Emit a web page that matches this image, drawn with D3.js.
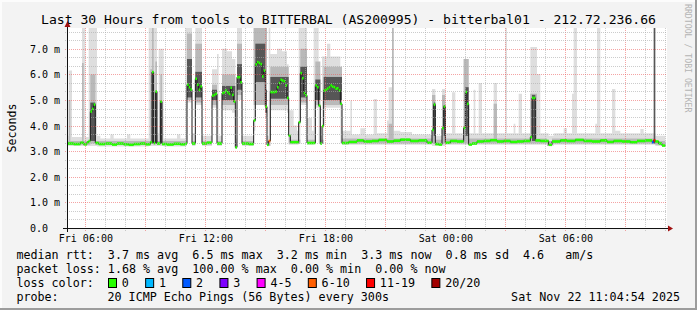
<!DOCTYPE html>
<html>
<head>
<meta charset="utf-8">
<script src="https://cdn.jsdelivr.net/npm/d3@7"></script>
<style>
  body { margin: 0; background: #f3f3f3; }
  text { font-family: "DejaVu Sans Mono", monospace; fill: #000; }
</style>
</head>
<body>
<div id="chart"></div>
<script>
// ---- data (minutes after graph start, values in ms) ----
const titleText = 'Last 30 Hours from tools to BITTERBAL (AS200995) - bitterbal01 - 212.72.236.66'
const yTickValues = [0, 1, 2, 3, 4, 5, 6, 7]
const yTickLabels = ['0.0', '1.0 m', '2.0 m', '3.0 m', '4.0 m', '5.0 m', '6.0 m', '7.0 m']

// median rtt per 5 min step: [minute, ms] (value holds until next entry)
const medianSteps = [
  [0,3.30],[20,3.28],[40,3.33],[50,3.27],[60,3.35],
  [65,3.40],[70,4.55],[75,4.65],[80,4.82],[85,3.32],
  [95,3.28],[115,3.30],[135,3.26],[150,3.30],[170,3.27],[185,3.25],[200,3.28],[220,3.30],[235,3.27],
  [250,3.35],[255,6.09],[260,3.32],[265,5.33],[270,3.30],[280,4.94],[285,3.28],
  [300,3.26],[320,3.29],[340,3.27],[355,3.30],
  [360,5.60],[365,5.50],[370,5.41],[375,3.30],
  [385,5.83],[390,5.60],[395,5.40],[400,5.53],[405,3.30],
  [420,3.33],[435,5.17],[440,5.20],[445,5.24],[450,3.30],
  [465,5.27],[470,5.30],[475,5.37],[480,5.30],[485,5.24],[490,5.48],[495,5.20],[500,4.94],[505,3.15],
  [510,5.89],[515,5.89],[520,5.69],[525,3.30],[545,3.28],
  [560,4.20],[565,6.39],[570,6.48],[575,6.45],[580,6.40],[585,5.92],[590,6.15],[595,4.74],[600,3.25],[605,3.40],
  [610,5.31],[620,5.31],[625,5.33],[630,5.50],[635,5.66],[640,5.79],[645,5.76],[650,5.73],[655,5.57],[660,5.08],[665,3.61],[670,3.35],
  [695,4.13],[700,6.05],[705,5.85],[710,5.27],[715,5.18],[720,3.32],
  [745,5.57],[750,5.50],[755,4.78],[760,3.30],
  [765,3.98],[770,5.37],[775,5.40],[780,5.45],[785,5.50],[790,5.57],[795,5.52],[800,5.50],[805,5.44],[810,5.46],[815,5.37],[820,4.85],[825,3.32],
  [845,3.36],[870,3.42],[890,3.38],[915,3.40],[935,3.44],[960,3.38],[980,3.41],[1000,3.45],[1030,3.40],[1055,3.42],[1080,3.33],
  [1095,3.83],[1100,4.82],[1105,3.28],[1115,3.26],
  [1125,3.90],[1130,4.74],[1135,3.33],[1150,3.40],[1170,3.38],
  [1190,3.91],[1195,5.31],[1200,4.85],[1205,3.26],[1215,3.30],[1230,3.38],[1250,3.40],[1270,3.43],[1290,3.38],[1310,3.40],[1330,3.36],[1350,3.38],[1370,3.40],
  [1390,3.55],[1395,5.08],[1400,5.08],[1405,3.42],
  [1420,3.40],[1445,3.25],[1455,3.38],[1480,3.42],[1500,3.40],[1525,3.44],[1550,3.40],[1575,3.38],[1600,3.42],[1620,3.36],[1640,3.40],[1665,3.38],[1690,3.35],[1710,3.40],[1735,3.42],
  [1755,3.35],[1760,3.42],[1765,3.38],[1775,3.30],[1785,3.22]
]
const endMinute = 1795

// steps with packet loss: [minute, loss class index]
const lossSteps = [[535,5],[605,5],[1755,2],[1760,6]]
const lossLabels = ['0', '1', '2', '3', '4-5', '6-10', '11-19', '20/20']
const lossColors = ['#26ff00', '#00b8ff', '#0059ff', '#7e00ff', '#ff00ff', '#ff5e00', '#ff0000', '#a10000']

// smoke (min..max of the pings): [minute, low ms, high ms]
const smokeOuter = [
  [0,3.2,3.6],[5,3.2,6.15],[15,3.2,3.55],[45,3.2,7.9],[55,3.2,3.55],[65,3.2,7.9],[90,3.18,3.6],[100,3.18,3.5],
  [130,3.18,3.65],[140,3.18,3.5],[180,3.18,3.65],[190,3.18,3.5],[245,3.2,7.9],[270,3.2,3.7],[275,3.2,7.0],[290,3.18,3.5],
  [330,3.18,3.65],[340,3.18,3.5],[355,3.2,7.9],[360,4.9,7.9],[375,3.2,3.7],[385,4.8,7.9],[405,3.2,3.6],
  [430,3.2,3.6],[435,4.7,6.2],[450,3.2,6.8],[455,3.2,3.6],[465,4.6,7.0],[480,4.6,6.9],[495,4.5,6.6],[505,3.1,3.5],
  [510,5.0,7.9],[525,3.2,3.6],[555,3.2,3.6],[560,3.8,7.9],[565,4.8,7.9],[595,4.3,7.9],[600,3.2,3.6],[605,3.2,7.9],
  [610,4.6,6.8],[630,4.6,7.0],[645,4.6,6.9],[660,4.5,6.4],[665,3.25,4.6],[680,3.25,4.0],[690,3.25,3.8],
  [695,3.3,7.9],[700,4.8,7.9],[720,3.25,4.3],[735,3.25,3.8],[740,3.3,7.9],[745,4.7,7.9],[755,3.3,6.0],[760,3.25,3.6],
  [765,3.3,6.7],[770,4.7,6.7],[780,4.7,7.2],[790,4.7,6.7],[820,3.3,5.6],[825,3.25,3.8],
  [850,3.25,4.98],[855,3.25,3.65],[880,3.25,3.9],[895,3.25,3.65],[920,3.25,5.04],[930,3.25,3.7],
  [960,3.25,4.2],[965,3.25,5.5],[975,3.25,7.9],[980,3.25,3.8],[1000,3.25,3.75],[1035,3.25,3.65],[1095,3.2,5.43],
  [1105,3.2,3.6],[1125,3.2,5.43],[1135,3.25,3.7],[1155,3.25,5.3],[1165,3.25,3.7],[1190,3.25,6.6],[1205,3.25,3.7],
  [1220,3.25,5.4],[1225,3.25,3.7],[1235,3.25,5.66],[1245,3.25,3.7],[1280,3.25,5.66],[1290,3.25,3.7],[1315,3.25,7.9],
  [1320,3.25,3.7],[1340,3.25,4.07],[1345,3.25,3.7],[1355,3.25,5.24],[1365,3.25,3.7],[1390,3.25,7.07],[1410,3.25,6.02],
  [1420,3.25,3.7],[1445,3.2,3.6],[1460,3.25,3.7],[1490,3.25,3.9],[1500,3.25,3.7],[1515,3.25,5.24],[1520,3.25,7.9],
  [1530,3.25,3.7],[1585,3.25,4.07],[1590,3.25,7.9],[1600,3.25,3.7],[1635,3.25,5.43],[1645,3.25,3.8],[1660,3.25,3.7],
  [1720,3.25,3.87],[1730,3.25,3.7],[1765,3.2,3.6]
]
const smokeMid = [
  [0,3.25,3.4],[5,3.25,5.0],[10,3.25,3.4],[45,3.25,6.45],[50,3.25,3.4],[70,3.3,6.0],[85,3.25,3.4],
  [250,3.3,6.2],[255,3.3,7.9],[260,3.25,3.4],[265,3.3,6.5],[270,3.25,3.4],[280,3.3,6.0],[285,3.25,3.4],
  [360,5.0,7.6],[375,3.25,3.4],[385,4.9,7.2],[405,3.25,3.4],[435,4.8,5.6],[450,3.25,3.4],[465,4.8,6.0],
  [505,3.2,3.35],[510,5.2,7.2],[525,3.25,3.4],[560,4.8,7.9],[600,3.2,3.4],[610,4.8,6.3],[665,3.3,3.6],[670,3.3,3.45],
  [700,4.9,7.0],[720,3.3,3.45],[745,4.8,6.5],[760,3.3,3.45],[770,4.8,6.3],[825,3.3,3.5],[965,3.3,4.07],[975,3.3,7.9],
  [980,3.3,3.5],[1095,3.3,5.2],[1105,3.25,3.45],[1125,3.3,5.2],[1135,3.3,3.5],[1190,3.3,6.6],[1205,3.3,3.5],
  [1280,3.3,4.85],[1290,3.3,3.5],[1390,3.3,5.24],[1410,3.3,3.5],[1440,3.2,3.4],[1455,3.3,3.5],[1765,3.25,3.4]
]
// dense core of the smoke; null = none
const smokeCore = [
  [70,3.4,4.9],[85,null,null],[255,3.3,6.1],[260,null,null],[265,3.3,5.35],[270,null,null],
  [280,3.3,4.95],[285,null,null],[360,5.1,6.6],[375,null,null],[385,5.1,6.1],[405,null,null],[435,5.0,5.4],
  [450,null,null],[465,5.0,5.55],[505,null,null],[510,5.4,6.4],[525,null,null],[565,5.7,7.2],[595,4.5,5.4],
  [600,null,null],[610,5.05,5.9],[665,null,null],[700,5.1,6.3],[720,null,null],[745,5.0,5.8],[760,null,null],
  [770,5.0,5.9],[825,null,null],[1100,3.6,4.9],[1105,null,null],[1130,3.6,4.8],[1135,null,null],[1195,3.6,5.5],
  [1205,null,null],[1395,3.4,5.2],[1405,null,null],[1760,3.3,7.9],[1765,null,null]
]

const rttLegend = 'median rtt:  3.7 ms avg  6.5 ms max  3.2 ms min  3.3 ms now  0.8 ms sd  4.6   am/s'
const lossLegend = 'packet loss: 1.68 % avg  100.00 % max  0.00 % min  0.00 % now'
const probeText = '20 ICMP Echo Pings (56 Bytes) every 300s'
const stampText = 'Sat Nov 22 11:04:54 2025'

// ---- chart ----
const width = 697, height = 310
const start = new Date(2025, 10, 21, 5, 4, 54)
const end = new Date(2025, 10, 22, 11, 4, 54)
const t = m => new Date(start.getTime() + m * 60000)

const plotLeft = 67, plotRight = 667, plotTop = 28, plotBottom = 228

const x = d3.scaleTime().domain([start, end]).range([plotLeft, plotRight])
const y = d3.scaleLinear().domain([0, 7.8125]).range([plotBottom, plotTop])

const svg = d3.select('#chart').append('svg')
    .attr('width', width)
    .attr('height', height)

svg.append('rect').attr('width', width).attr('height', height).attr('fill', '#f3f3f3')
// 3d frame
svg.append('path').attr('d', `M1,${height}V1H${width}`).attr('fill', 'none').attr('stroke', '#fcfcfc').attr('stroke-width', 2)
svg.append('path').attr('d', `M0,${height - 1}H${width - 1}V0`).attr('fill', 'none').attr('stroke', '#9c9c9c').attr('stroke-width', 2)

svg.append('rect')
    .attr('x', plotLeft).attr('y', plotTop)
    .attr('width', plotRight - plotLeft).attr('height', plotBottom - plotTop)
    .attr('fill', '#fff')

svg.append('clipPath').attr('id', 'clip').append('rect')
    .attr('x', plotLeft).attr('y', plotTop)
    .attr('width', plotRight - plotLeft).attr('height', plotBottom - plotTop)

const data = svg.append('g').attr('clip-path', 'url(#clip)')

// smoke areas
const withEnd = rows => rows.concat([[endMinute].concat(rows[rows.length - 1].slice(1))])
const smokeArea = d3.area()
    .x(d => x(t(d[0])))
    .y0(d => y(d[1]))
    .y1(d => y(d[2]))
    .curve(d3.curveStepAfter)

data.append('path').datum(withEnd(smokeOuter)).attr('d', smokeArea).attr('fill', '#dedede')
data.append('path').datum(withEnd(smokeMid)).attr('d', smokeArea).attr('fill', '#b9b9b9')

const spans = rows => rows.map((r, i) => ({
    m0: r[0], m1: i + 1 < rows.length ? rows[i + 1][0] : endMinute, lo: r[1], hi: r[2]
})).filter(d => d.lo != null)

data.append('g').selectAll('rect').data(spans(smokeCore)).join('rect')
    .attr('x', d => x(t(d.m0)))
    .attr('width', d => x(t(d.m1)) - x(t(d.m0)))
    .attr('y', d => y(d.hi))
    .attr('height', d => y(d.lo) - y(d.hi))
    .attr('fill', '#565656')

// median step line
const medianLine = d3.line()
    .x(d => x(t(d[0])))
    .y(d => y(d[1]))
    .curve(d3.curveStepAfter)

data.append('path')
    .datum(withEnd(medianSteps))
    .attr('d', medianLine)
    .attr('fill', 'none')
    .attr('stroke', '#1a1a1a')
    .attr('stroke-width', 1)

const lossAt = new Map(lossSteps)
data.append('g').selectAll('rect').data(spans(medianSteps.map(d => [d[0], d[1], d[1]]))).join('rect')
    .attr('x', d => x(t(d.m0)))
    .attr('width', d => x(t(d.m1)) - x(t(d.m0)))
    .attr('y', d => y(d.hi) - 1.3)
    .attr('height', 2.6)
    .attr('fill', d => lossColors[lossAt.get(d.m0) || 0])

// grid (drawn over the data like rrdtool)
const grid = svg.append('g')
const hours = x.ticks(d3.timeHour.every(1)).filter(d => x(d) > plotLeft + 1 && x(d) < plotRight)
grid.selectAll('.vgrid').data(hours).join('line')
    .attr('x1', d => Math.round(x(d)) + 0.5).attr('x2', d => Math.round(x(d)) + 0.5)
    .attr('y1', plotTop).attr('y2', plotBottom + 3)
    .attr('stroke', d => d.getHours() % 3 === 0 ? 'rgba(235,90,90,0.55)' : 'rgba(170,170,170,0.6)')
    .attr('stroke-dasharray', '1,1')

const yMinor = d3.range(1, 24).map(i => i / 3).filter(v => Math.abs(v - Math.round(v)) > 0.01)
grid.selectAll('.hminor').data(yMinor).join('line')
    .attr('x1', plotLeft - 2).attr('x2', plotRight)
    .attr('y1', d => Math.round(y(d)) + 0.5).attr('y2', d => Math.round(y(d)) + 0.5)
    .attr('stroke', 'rgba(170,170,170,0.6)')
    .attr('stroke-dasharray', '1,1')
grid.selectAll('.hmajor').data(yTickValues.slice(1)).join('line')
    .attr('x1', plotLeft - 2).attr('x2', plotRight)
    .attr('y1', d => Math.round(y(d)) + 0.5).attr('y2', d => Math.round(y(d)) + 0.5)
    .attr('stroke', 'rgba(235,90,90,0.55)')
    .attr('stroke-dasharray', '1,1')

// axes lines + arrows
svg.append('line').attr('x1', plotLeft - 4).attr('x2', plotRight + 1)
    .attr('y1', plotBottom + 0.5).attr('y2', plotBottom + 0.5).attr('stroke', '#111')
svg.append('line').attr('x1', plotLeft + 0.5).attr('x2', plotLeft + 0.5)
    .attr('y1', plotBottom + 4).attr('y2', plotTop - 2).attr('stroke', '#111')
svg.append('path').attr('d', `M${plotRight + 1},${plotBottom - 2.5}L${plotRight + 6},${plotBottom + 0.5}L${plotRight + 1},${plotBottom + 3.5}Z`).attr('fill', '#a01010')
svg.append('path').attr('d', `M${plotLeft - 2.5},${plotTop - 1}L${plotLeft + 0.5},${plotTop - 7}L${plotLeft + 3.5},${plotTop - 1}Z`).attr('fill', '#a01010')

// tick labels via d3 axes
const xAxis = d3.axisBottom(x)
    .tickValues(x.ticks(d3.timeHour.every(6)))
    .tickFormat(d3.timeFormat('%a %H:%M'))
    .tickSize(0)
    .tickPadding(0)
const gx = svg.append('g').attr('transform', `translate(0,${plotBottom})`).call(xAxis)
gx.select('.domain').remove()
gx.selectAll('text').attr('y', 14).attr('dy', 0).style('font-size', '10px').style('font-family', '"DejaVu Sans Mono", monospace')

const yAxis = d3.axisLeft(y).tickValues(yTickValues).tickFormat((d, i) => yTickLabels[i]).tickSize(0)
const gy = svg.append('g').attr('transform', `translate(${plotLeft},0)`).call(yAxis)
gy.select('.domain').remove()
gy.selectAll('text').attr('x', 30 - plotLeft).attr('dy', '0.35em').attr('text-anchor', 'start')
    .style('font-size', '10px').style('font-family', '"DejaVu Sans Mono", monospace')

// title and side texts
svg.append('text').attr('x', 348.5).attr('y', 24).attr('text-anchor', 'middle')
    .style('font-size', '13.1px').text(titleText)
svg.append('text').attr('transform', 'translate(15.5,128) rotate(-90)').attr('text-anchor', 'middle')
    .style('font-size', '11.6px').text('Seconds')
svg.append('text').attr('transform', 'translate(684.5,4) rotate(90)')
    .style('font-size', '8.2px').style('fill', '#b4b4b4').text('RRDTOOL / TOBI OETIKER')

// legend
const legendX = 16.4, legendFont = '11.7px'
const legendRow = yy => svg.append('text').attr('x', legendX).attr('y', yy)
    .attr('xml:space', 'preserve').style('font-size', legendFont).style('white-space', 'pre')
legendRow(258.5).text(rttLegend)
legendRow(272.5).text(lossLegend)
legendRow(286.5).text('loss color:')
legendRow(300.5).text('probe:')
svg.append('text').attr('x', 107.5).attr('y', 300.5).style('font-size', legendFont).text(probeText)
svg.append('text').attr('x', 680).attr('y', 300.5).attr('text-anchor', 'end').style('font-size', legendFont).text(stampText)

let lx = 108
lossLabels.forEach((lab, i) => {
    svg.append('rect').attr('x', lx + 0.5).attr('y', 278.5).attr('width', 8).attr('height', 9)
        .attr('fill', lossColors[i]).attr('stroke', '#000').attr('stroke-width', 1)
    const tx = svg.append('text').attr('x', lx + 13.8).attr('y', 286.5).style('font-size', legendFont).text(lab)
    lx = lx + 13.8 + tx.node().getComputedTextLength() + 16.3
})
</script>
</body>
</html>
